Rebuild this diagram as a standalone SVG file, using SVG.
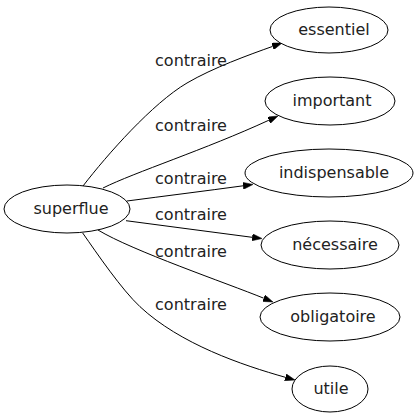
<svg xmlns="http://www.w3.org/2000/svg" width="420" height="419" viewBox="0 0 420 419">
<style>
.node ellipse{fill:#fff;stroke:#000;stroke-width:1}
text{font-family:"DejaVu Sans","Liberation Sans",sans-serif;font-size:16px;fill:#222;text-anchor:middle}
.edge path{fill:none;stroke:#000;stroke-width:1;marker-end:url(#arr)}
</style>
<defs>
<marker id="arr" viewBox="0 0 10 7" refX="0" refY="3.5" markerWidth="10" markerHeight="7" markerUnits="userSpaceOnUse" orient="auto">
<path d="M0,0 L10,3.5 L0,7 z" fill="#000" stroke="#000" stroke-width="0.5"/>
</marker>
</defs>
<rect width="420" height="419" fill="#fff"/>
<g id="edges" class="edge">
<path d="M83,186 C107.4,154.4 152.5,103.3 187,83 C212.9,67.8 249,54.8 272.6,46.4"/>
<path d="M103,188 C134.3,172.4 205.3,149.5 268.9,120.2"/>
<path d="M127,201 C165,196 205,191 243.1,185.8"/>
<path d="M126,220.7 C168,226 210,232 252.2,237.3"/>
<path d="M98,230 C132.2,250.8 226.7,283.1 263.7,298.2"/>
<path d="M82.7,233 C97,253.5 121.75,289.7 140,306.7 C180.2,344.1 242.2,365.15 285.4,377.3"/>
<text x="191" y="66">contraire</text>
<text x="191" y="130.5">contraire</text>
<text x="191" y="184">contraire</text>
<text x="191" y="219.5">contraire</text>
<text x="191" y="257">contraire</text>
<text x="191" y="310">contraire</text>
</g>
<g id="superflue" class="node"><ellipse cx="67" cy="209" rx="63" ry="24"/><text x="71" y="214.3">superflue</text></g>
<g id="essentiel" class="node"><ellipse cx="329" cy="30" rx="59" ry="23"/><text x="334" y="35">essentiel</text></g>
<g id="important" class="node"><ellipse cx="330" cy="101" rx="65" ry="24"/><text x="332" y="106">important</text></g>
<g id="indispensable" class="node"><ellipse cx="329" cy="173" rx="84" ry="24"/><text x="334" y="177.5">indispensable</text></g>
<g id="necessaire" class="node"><ellipse cx="330" cy="245" rx="69" ry="24"/><text x="335" y="250">nécessaire</text></g>
<g id="obligatoire" class="node"><ellipse cx="330" cy="317" rx="70" ry="24"/><text x="333" y="322">obligatoire</text></g>
<g id="utile" class="node"><ellipse cx="330" cy="389" rx="38" ry="23"/><text x="331" y="394">utile</text></g>
</svg>
